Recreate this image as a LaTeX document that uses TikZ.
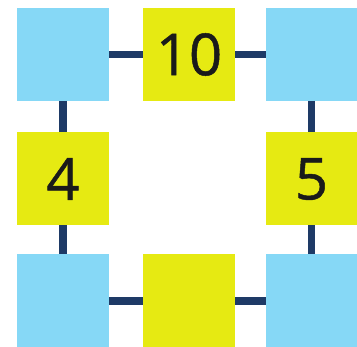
\documentclass[tikz,border=0pt]{standalone}
\usepackage{fontspec}
\setmainfont{Open Sans}
\newfontfamily\numfont[FakeBold=0.8]{Open Sans}
\definecolor{blueblk}{HTML}{86D8F6}
\definecolor{yellowblk}{HTML}{E6EA12}
\definecolor{navy}{HTML}{1E3A66}
\definecolor{txt}{HTML}{1A1A1A}
\tikzset{
  blk/.style={minimum width=92pt, minimum height=93pt, inner sep=0pt, outer sep=0pt},
  bluebox/.style={blk, fill=blueblk},
  yellowbox/.style={blk, fill=yellowblk, text=txt, font=\numfont\fontsize{58}{58}\selectfont},
  link/.style={draw=navy, line width=7.5pt}
}
\begin{document}
\begin{tikzpicture}[x=1pt,y=-1pt]
\useasboundingbox (0,0) rectangle (357,347);
\node[bluebox] (tl) at (63,54.5) {};
\node[yellowbox] (t) at (189,54.5) {10};
\node[bluebox] (tr) at (311.5,54.5) {};
\node[yellowbox] (l) at (63,179) {4};
\node[yellowbox] (r) at (311.5,179) {5};
\node[bluebox] (bl) at (63,301) {};
\node[yellowbox] (b) at (189,301) {};
\node[bluebox] (br) at (311.5,301) {};
\draw[link] (tl.east) -- (t.west);
\draw[link] (t.east) -- (tr.west);
\draw[link] (tl.south) -- (l.north);
\draw[link] (l.south) -- (bl.north);
\draw[link] (tr.south) -- (r.north);
\draw[link] (r.south) -- (br.north);
\draw[link] (bl.east) -- (b.west);
\draw[link] (b.east) -- (br.west);
\end{tikzpicture}
\end{document}
